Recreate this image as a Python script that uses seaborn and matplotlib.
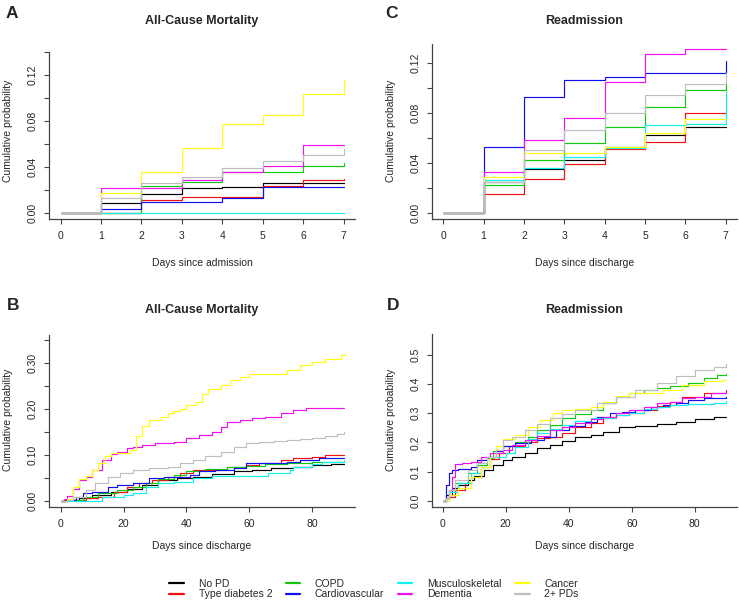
import matplotlib
matplotlib.use("Agg")
import matplotlib.pyplot as plt
from matplotlib.lines import Line2D
import numpy as np
import pandas as pd
import seaborn as sns

# groups and colours (R default palette order)
GROUPS = ["No PD", "Type diabetes 2", "COPD", "Cardiovascular",
          "Musculoskeletal", "Dementia", "Cancer", "2+ PDs"]
COLORS = ["#000000", "#F01010", "#10C810", "#1010F0",
          "#10F0F0", "#F010F0", "#FFFF10", "#BEBEBE"]

# Panel A: all-cause mortality, days since admission 0..7
A_DAYS = [0, 1, 2, 3, 4, 5, 6, 7]
A_NO_PD = [0, 0.008, 0.016, 0.021, 0.022, 0.026, 0.026, 0.026]
A_T2D = [0, 0, 0.011, 0.014, 0.014, 0.023, 0.028, 0.029]
A_COPD = [0, 0, 0.023, 0.027, 0.035, 0.035, 0.041, 0.043]
A_CARDIO = [0, 0.003, 0.0095, 0.0095, 0.013, 0.022, 0.022, 0.022]
A_MUSC = [0, 0, 0, 0, 0, 0, 0, 0]
A_DEMENTIA = [0, 0.021, 0.021, 0.028, 0.035, 0.041, 0.059, 0.059]
A_CANCER = [0, 0.017, 0.035, 0.056, 0.077, 0.085, 0.103, 0.115]
A_MULTI = [0, 0.013, 0.026, 0.031, 0.039, 0.045, 0.050, 0.055]

# Panel C: readmission, days since discharge 0..7
C_DAYS = [0, 1, 2, 3, 4, 5, 6, 7]
C_NO_PD = [0, 0.025, 0.035, 0.042, 0.053, 0.062, 0.069, 0.069]
C_T2D = [0, 0.015, 0.027, 0.039, 0.051, 0.057, 0.080, 0.080]
C_COPD = [0, 0.022, 0.042, 0.056, 0.069, 0.085, 0.098, 0.103]
C_CARDIO = [0, 0.053, 0.093, 0.106, 0.109, 0.112, 0.112, 0.122]
C_MUSC = [0, 0.026, 0.036, 0.0445, 0.052, 0.070, 0.071, 0.097]
C_DEMENTIA = [0, 0.033, 0.058, 0.076, 0.105, 0.127, 0.131, 0.131]
C_CANCER = [0, 0.029, 0.048, 0.048, 0.053, 0.064, 0.075, 0.075]
C_MULTI = [0, 0.025, 0.050, 0.066, 0.080, 0.094, 0.103, 0.112]

# Panel B: all-cause mortality, days since discharge 0..90
B_NO_PD_T = [0, 1, 6, 10, 16, 21, 26, 31, 37, 42, 48, 55, 61, 67, 74, 80, 86, 90]
B_NO_PD = [0, 0.002, 0.007, 0.013, 0.020, 0.027, 0.035, 0.046, 0.049, 0.053,
           0.059, 0.064, 0.067, 0.071, 0.074, 0.078, 0.080, 0.081]
B_T2D_T = [0, 2, 8, 12, 17, 21, 25, 29, 34, 38, 42, 49, 53, 59, 63, 70, 74, 80, 84, 90]
B_T2D = [0, 0.002, 0.006, 0.009, 0.020, 0.031, 0.038, 0.046, 0.053, 0.061,
         0.067, 0.067, 0.074, 0.078, 0.082, 0.089, 0.093, 0.095, 0.099, 0.100]
B_COPD_T = [0, 2, 7, 12, 18, 23, 27, 31, 36, 40, 46, 53, 59, 65, 72, 80, 90]
B_COPD = [0, 0.002, 0.009, 0.017, 0.024, 0.031, 0.040, 0.047, 0.056, 0.064,
          0.069, 0.074, 0.076, 0.080, 0.083, 0.085, 0.087]
B_CARDIO_T = [0, 2, 5, 7, 10, 15, 18, 23, 28, 33, 41, 44, 49, 55, 59, 65, 72, 76, 82, 90]
B_CARDIO = [0, 0.002, 0.009, 0.017, 0.020, 0.031, 0.035, 0.038, 0.049, 0.053,
            0.056, 0.064, 0.067, 0.071, 0.082, 0.083, 0.085, 0.089, 0.093, 0.093]
B_MUSC_T = [0, 13, 20, 23, 27, 31, 36, 42, 48, 66, 73, 74, 80, 83, 90]
B_MUSC = [0, 0.008, 0.013, 0.018, 0.031, 0.038, 0.042, 0.049, 0.054, 0.060,
          0.067, 0.074, 0.080, 0.085, 0.089]
B_DEMENTIA_T = [0, 1, 2, 4, 6, 8, 10, 13, 16, 18, 21, 23, 26, 30, 36, 40, 44, 48,
                51, 53, 57, 61, 65, 70, 74, 78, 90]
B_DEMENTIA = [0, 0.005, 0.011, 0.027, 0.046, 0.051, 0.067, 0.089, 0.101, 0.107,
              0.114, 0.118, 0.121, 0.125, 0.129, 0.136, 0.143, 0.150, 0.161, 0.172,
              0.176, 0.179, 0.183, 0.190, 0.197, 0.201, 0.201]
B_CANCER_T = [0, 2, 4, 6, 8, 10, 12, 14, 16, 20, 22, 24, 26, 28, 32, 34, 36, 38,
              40, 43, 45, 47, 51, 54, 57, 60, 72, 76, 80, 84, 89, 90]
B_CANCER = [0, 0.005, 0.030, 0.048, 0.055, 0.068, 0.082, 0.098, 0.103, 0.105,
            0.110, 0.140, 0.162, 0.176, 0.182, 0.190, 0.195, 0.200, 0.208, 0.215,
            0.232, 0.243, 0.252, 0.262, 0.268, 0.275, 0.284, 0.295, 0.302, 0.309,
            0.317, 0.318]
B_MULTI_T = [0, 2, 4, 8, 11, 15, 19, 23, 28, 34, 38, 42, 46, 51, 55, 59, 63, 68,
             72, 76, 80, 84, 88, 90]
B_MULTI = [0, 0.002, 0.009, 0.024, 0.038, 0.053, 0.060, 0.067, 0.071, 0.074,
           0.083, 0.089, 0.098, 0.107, 0.118, 0.125, 0.127, 0.131, 0.132, 0.134,
           0.136, 0.140, 0.146, 0.149]

# Panel D: readmission, days since discharge 0..90
D_NO_PD_T = [0, 1, 3, 5, 8, 10, 13, 16, 19, 22, 26, 30, 34, 38, 42, 47, 51, 56,
             61, 68, 74, 80, 86, 90]
D_NO_PD = [0, 0.020, 0.043, 0.055, 0.072, 0.085, 0.106, 0.123, 0.140, 0.151,
           0.165, 0.180, 0.191, 0.206, 0.218, 0.226, 0.237, 0.251, 0.257, 0.263,
           0.271, 0.280, 0.286, 0.288]
D_T2D_T = [0, 1, 2, 4, 7, 9, 12, 15, 18, 21, 26, 30, 34, 38, 42, 47, 51, 55, 59,
           64, 68, 72, 76, 83, 90]
D_T2D = [0, 0.005, 0.015, 0.038, 0.060, 0.083, 0.117, 0.142, 0.163, 0.186,
         0.203, 0.214, 0.220, 0.233, 0.254, 0.265, 0.282, 0.294, 0.300, 0.311,
         0.325, 0.339, 0.356, 0.368, 0.379]
D_COPD_T = [0, 1, 2, 4, 8, 11, 14, 16, 19, 23, 27, 30, 34, 38, 42, 47, 51, 55,
            59, 64, 68, 72, 78, 83, 87, 90]
D_COPD = [0, 0.005, 0.038, 0.060, 0.095, 0.123, 0.146, 0.169, 0.188, 0.200,
          0.220, 0.243, 0.260, 0.282, 0.297, 0.311, 0.334, 0.356, 0.368, 0.379,
          0.385, 0.391, 0.402, 0.419, 0.430, 0.435]
D_CARDIO_T = [0, 1, 2, 3, 5, 9, 11, 14, 17, 19, 23, 28, 32, 36, 40, 45, 49, 53,
              57, 61, 66, 70, 74, 78, 83, 90]
D_CARDIO = [0, 0.055, 0.095, 0.106, 0.109, 0.117, 0.140, 0.151, 0.169, 0.186,
            0.197, 0.208, 0.220, 0.243, 0.256, 0.271, 0.288, 0.300, 0.305, 0.311,
            0.322, 0.328, 0.334, 0.345, 0.351, 0.355]
D_MUSC_T = [0, 1, 2, 5, 9, 12, 15, 20, 23, 27, 30, 34, 38, 42, 47, 55, 59, 64,
            68, 72, 78, 86, 90]
D_MUSC = [0, 0.005, 0.032, 0.060, 0.095, 0.117, 0.150, 0.165, 0.185, 0.211,
          0.231, 0.245, 0.260, 0.274, 0.282, 0.294, 0.302, 0.313, 0.322, 0.328,
          0.331, 0.334, 0.340]
D_DEMENTIA_T = [0, 1, 2, 3, 4, 6, 9, 12, 15, 19, 22, 26, 30, 34, 38, 42, 47, 51,
                55, 59, 64, 68, 72, 76, 80, 85, 90]
D_DEMENTIA = [0, 0.010, 0.038, 0.083, 0.125, 0.131, 0.134, 0.151, 0.165, 0.174,
              0.191, 0.208, 0.222, 0.243, 0.254, 0.265, 0.279, 0.288, 0.300, 0.311,
              0.322, 0.334, 0.339, 0.351, 0.356, 0.368, 0.372]
D_CANCER_T = [0, 1, 2, 5, 9, 12, 15, 17, 19, 23, 27, 31, 35, 38, 42, 47, 51, 55,
              59, 64, 70, 76, 83, 89, 90]
D_CANCER = [0, 0.005, 0.020, 0.043, 0.083, 0.117, 0.151, 0.186, 0.211, 0.226,
            0.254, 0.277, 0.300, 0.311, 0.313, 0.322, 0.339, 0.359, 0.368, 0.370,
            0.379, 0.396, 0.408, 0.413, 0.413]
D_MULTI_T = [0, 1, 2, 4, 8, 11, 14, 17, 19, 22, 26, 30, 34, 38, 42, 49, 55, 61,
             68, 74, 80, 86, 90]
D_MULTI = [0, 0.010, 0.038, 0.072, 0.106, 0.131, 0.151, 0.174, 0.208, 0.220,
           0.243, 0.263, 0.282, 0.297, 0.311, 0.334, 0.356, 0.379, 0.402, 0.425,
           0.448, 0.459, 0.467]


def long_frame(series):
    rows = []
    for grp, (t, v) in zip(GROUPS, series):
        for d, p in zip(t, v):
            rows.append((grp, d, p))
    return pd.DataFrame(rows, columns=["group", "day", "prob"])


df_a = long_frame([(A_DAYS, s) for s in
                   [A_NO_PD, A_T2D, A_COPD, A_CARDIO, A_MUSC, A_DEMENTIA, A_CANCER, A_MULTI]])
df_c = long_frame([(C_DAYS, s) for s in
                   [C_NO_PD, C_T2D, C_COPD, C_CARDIO, C_MUSC, C_DEMENTIA, C_CANCER, C_MULTI]])
df_b = long_frame([(B_NO_PD_T, B_NO_PD), (B_T2D_T, B_T2D), (B_COPD_T, B_COPD),
                   (B_CARDIO_T, B_CARDIO), (B_MUSC_T, B_MUSC), (B_DEMENTIA_T, B_DEMENTIA),
                   (B_CANCER_T, B_CANCER), (B_MULTI_T, B_MULTI)])
df_d = long_frame([(D_NO_PD_T, D_NO_PD), (D_T2D_T, D_T2D), (D_COPD_T, D_COPD),
                   (D_CARDIO_T, D_CARDIO), (D_MUSC_T, D_MUSC), (D_DEMENTIA_T, D_DEMENTIA),
                   (D_CANCER_T, D_CANCER), (D_MULTI_T, D_MULTI)])

sns.set_style("white")
plt.rcParams["font.family"] = ["Liberation Sans", "DejaVu Sans"]

W, H = 739, 603
fig = plt.figure(figsize=(W / 100, H / 100), dpi=100)


def rect(x0, y0, x1, y1):
    return [x0 / W, 1 - y1 / H, (x1 - x0) / W, (y1 - y0) / H]


def px(x, y):
    return x / W, 1 - y / H


FS = 7.5
AX_COL = "#444444"


def draw_panel(box, df, xlim, ylim, xticks, yticks, ylabels, letter, title, xlabel,
               letter_xy, title_xy, ylab_xy, xlab_xy):
    ax = fig.add_axes(rect(*box))
    sns.lineplot(data=df, x="day", y="prob", hue="group", hue_order=GROUPS,
                 palette=COLORS, drawstyle="steps-post", estimator=None,
                 legend=False, linewidth=0.85, ax=ax)
    ax.set_xlim(*xlim)
    ax.set_ylim(*ylim)
    ax.set_xticks(xticks)
    ax.set_xticklabels([str(t) for t in xticks])
    ax.set_yticks(yticks)
    ax.set_yticklabels(ylabels, rotation=90, va="center")
    ax.set_xlabel("")
    ax.set_ylabel("")
    for s in ["top", "right"]:
        ax.spines[s].set_visible(False)
    for s in ["left", "bottom"]:
        ax.spines[s].set_color(AX_COL)
        ax.spines[s].set_linewidth(0.9)
    ax.tick_params(direction="out", length=3.6, width=0.8, color=AX_COL,
                   labelsize=FS, pad=4.5, left=True, bottom=True)
    fig.text(*px(*letter_xy), letter, fontsize=12.5, fontweight="bold",
             ha="center", va="center")
    fig.text(*px(*title_xy), title, fontsize=9, fontweight="bold",
             ha="center", va="center")
    fig.text(*px(*ylab_xy), "Cumulative probability", fontsize=FS, rotation=90,
             ha="center", va="center")
    fig.text(*px(*xlab_xy), xlabel, fontsize=FS, ha="center", va="center")
    return ax


def alt_labels(vals, fmt):
    return [fmt.format(v) if i % 2 == 0 else "" for i, v in enumerate(vals)]


ya = np.round(np.arange(0, 0.1401, 0.02), 2)
draw_panel((49.3, 51.7, 355, 219.3), df_a, (-0.28, 7.28), (-0.0058, 0.14),
           A_DAYS, ya, alt_labels(ya, "{:.2f}"), "A", "All-Cause Mortality",
           "Days since admission", (11.7, 13.3), (202, 20.7), (8.5, 131), (202, 263))

yc = np.round(np.arange(0, 0.1301, 0.02), 2)
draw_panel((432.3, 44.3, 736.7, 219.3), df_c, (-0.27, 7.27), (-0.0053, 0.135),
           C_DAYS, yc, alt_labels(yc, "{:.2f}"), "C", "Readmission",
           "Days since discharge", (391.7, 13.3), (584.5, 20.7), (390.7, 131), (584.5, 263))

yb = np.round(np.arange(0, 0.3501, 0.05), 2)
draw_panel((49.3, 335, 355, 507.3), df_b, (-3.6, 93.6), (-0.0137, 0.36),
           [0, 20, 40, 60, 80], yb, alt_labels(yb, "{:.2f}"), "B", "All-Cause Mortality",
           "Days since discharge", (13, 305), (202, 310), (8.5, 420), (202, 546))

yd = np.round(np.arange(0, 0.501, 0.1), 1)
draw_panel((432.3, 334.3, 736.7, 507.3), df_d, (-3.3, 93.3), (-0.0216, 0.569),
           [0, 20, 40, 60, 80], yd, ["{:.1f}".format(v) for v in yd], "D", "Readmission",
           "Days since discharge", (393, 305), (584.5, 310), (390.7, 420), (584.5, 546))

handles = [Line2D([0], [0], color=c, lw=1.6) for c in COLORS]
fig.legend(handles, GROUPS, ncol=4, loc="center", bbox_to_anchor=px(374, 589),
           frameon=False, fontsize=FS, handlelength=1.4, handletextpad=1.4,
           columnspacing=1.3, labelspacing=0.05, borderpad=0)

fig.savefig("out.png", dpi=100)
